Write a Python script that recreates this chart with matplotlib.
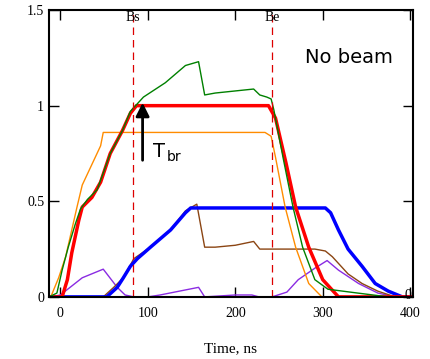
import numpy as np
import matplotlib
matplotlib.use("Agg")
import matplotlib.pyplot as plt

# data (time in ns, value)
red_t = [-13, 2, 8, 13, 21, 25, 36, 46, 57, 71, 80, 87, 238, 246, 258, 269, 284, 300, 318, 403]
red_y = [0, 0, 0.09, 0.23, 0.40, 0.47, 0.52, 0.60, 0.75, 0.87, 0.96, 1.0, 1.0, 0.935, 0.70, 0.47, 0.26, 0.09, 0, 0]

green_t = [-13, -4, 2, 9, 17, 23, 31, 42, 46, 57, 71, 80, 88, 95, 120, 143, 158, 165, 177, 221, 228, 236, 241,
           244, 255, 266, 277, 291, 306, 340, 375, 403]
green_y = [0, 0.02, 0.14, 0.26, 0.38, 0.46, 0.51, 0.56, 0.61, 0.75, 0.87, 0.97, 1.01, 1.045, 1.12, 1.21, 1.23, 1.056,
           1.066, 1.087, 1.056, 1.045, 1.035, 0.98, 0.72, 0.47, 0.26, 0.09, 0.04, 0.02, 0, 0]

orange_t = [-13, -11, -2, 6, 13, 19, 25, 46, 49, 234, 241, 246, 257, 269, 284, 299, 403]
orange_y = [0, 0, 0.1, 0.21, 0.35, 0.47, 0.585, 0.79, 0.86, 0.86, 0.84, 0.73, 0.47, 0.26, 0.07, 0, 0]

blue_t = [-13, 53, 65, 72, 80, 88, 103, 126, 143, 149, 303, 309, 318, 329, 345, 360, 375, 391, 403]
blue_y = [0, 0, 0.05, 0.1, 0.16, 0.2, 0.26, 0.35, 0.44, 0.465, 0.465, 0.44, 0.35, 0.25, 0.16, 0.07, 0.03, 0, 0]

brown_t = [-13, 49, 61, 72, 84, 103, 126, 143, 156, 165, 177, 200, 221, 228, 242, 291, 303, 311, 329, 345, 363, 383, 403]
brown_y = [0, 0, 0.05, 0.1, 0.2, 0.26, 0.35, 0.45, 0.485, 0.26, 0.26, 0.27, 0.29, 0.25, 0.25, 0.25, 0.24, 0.21,
           0.12, 0.07, 0.03, 0, 0]

purple_t = [-11, 0, 25, 49, 65, 74, 84, 100, 114, 158, 165, 200, 219, 227, 242, 259, 272, 291, 305, 318, 341, 363, 383, 403]
purple_y = [0, 0.01, 0.1, 0.145, 0.05, 0.01, 0, 0, 0.01, 0.05, 0, 0.01, 0.01, 0, 0, 0.025, 0.09, 0.15, 0.19, 0.14,
            0.07, 0.02, 0, 0]

bs, be = 83, 242

plt.rcParams['font.family'] = ['Liberation Serif', 'DejaVu Serif']

fig = plt.figure(figsize=(4.3, 3.59), dpi=100)
ax = fig.add_axes([0.114, 0.173, 0.846, 0.799])

ax.plot(purple_t, purple_y, color='#8a2be2', lw=1.0)
ax.plot(brown_t, brown_y, color='#8b4513', lw=1.0)
ax.plot(blue_t, blue_y, color='#0000ff', lw=2.5)
ax.plot(orange_t, orange_y, color='#ff8c00', lw=1.0)
ax.plot(red_t, red_y, color='#ff0000', lw=2.5)
ax.plot(green_t, green_y, color='#008000', lw=1.0)

ax.axvline(bs, color='#dd0000', lw=0.9, ls=(0, (6, 4)))
ax.axvline(be, color='#dd0000', lw=0.9, ls=(0, (6, 4)))
ax.text(bs, 1.46, 'Bs', ha='center', va='center', fontsize=10)
ax.text(be, 1.46, 'Be', ha='center', va='center', fontsize=10)

ax.text(280, 1.25, 'No beam', fontsize=14, family='DejaVu Sans', va='center')

ax.annotate('', xy=(94, 1.03), xytext=(94, 0.7),
            arrowprops=dict(arrowstyle='-|>,head_width=0.4,head_length=0.8', color='black', lw=2))
ax.text(106, 0.76, 'T', fontsize=14, family='DejaVu Sans', va='center')
ax.text(122, 0.73, 'br', fontsize=10, family='DejaVu Sans', va='center')
ax.text(397, 0.008, '0', fontsize=10, ha='center', va='center')

ax.set_xlim(-13, 403)
ax.set_ylim(0, 1.5)
ax.set_xticks([0, 100, 200, 300, 400])
ax.set_yticks([0, 0.5, 1, 1.5])
ax.set_yticklabels(['0', '0.5', '1', '1.5'])
ax.tick_params(direction='in', length=7, width=1, top=True, right=True, labelsize=10)
ax.tick_params(axis='x', pad=7)
for s in ax.spines.values():
    s.set_linewidth(1.5)
ax.set_xlabel('Time, ns', fontsize=11, labelpad=16)

fig.savefig('out.png', dpi=100)
